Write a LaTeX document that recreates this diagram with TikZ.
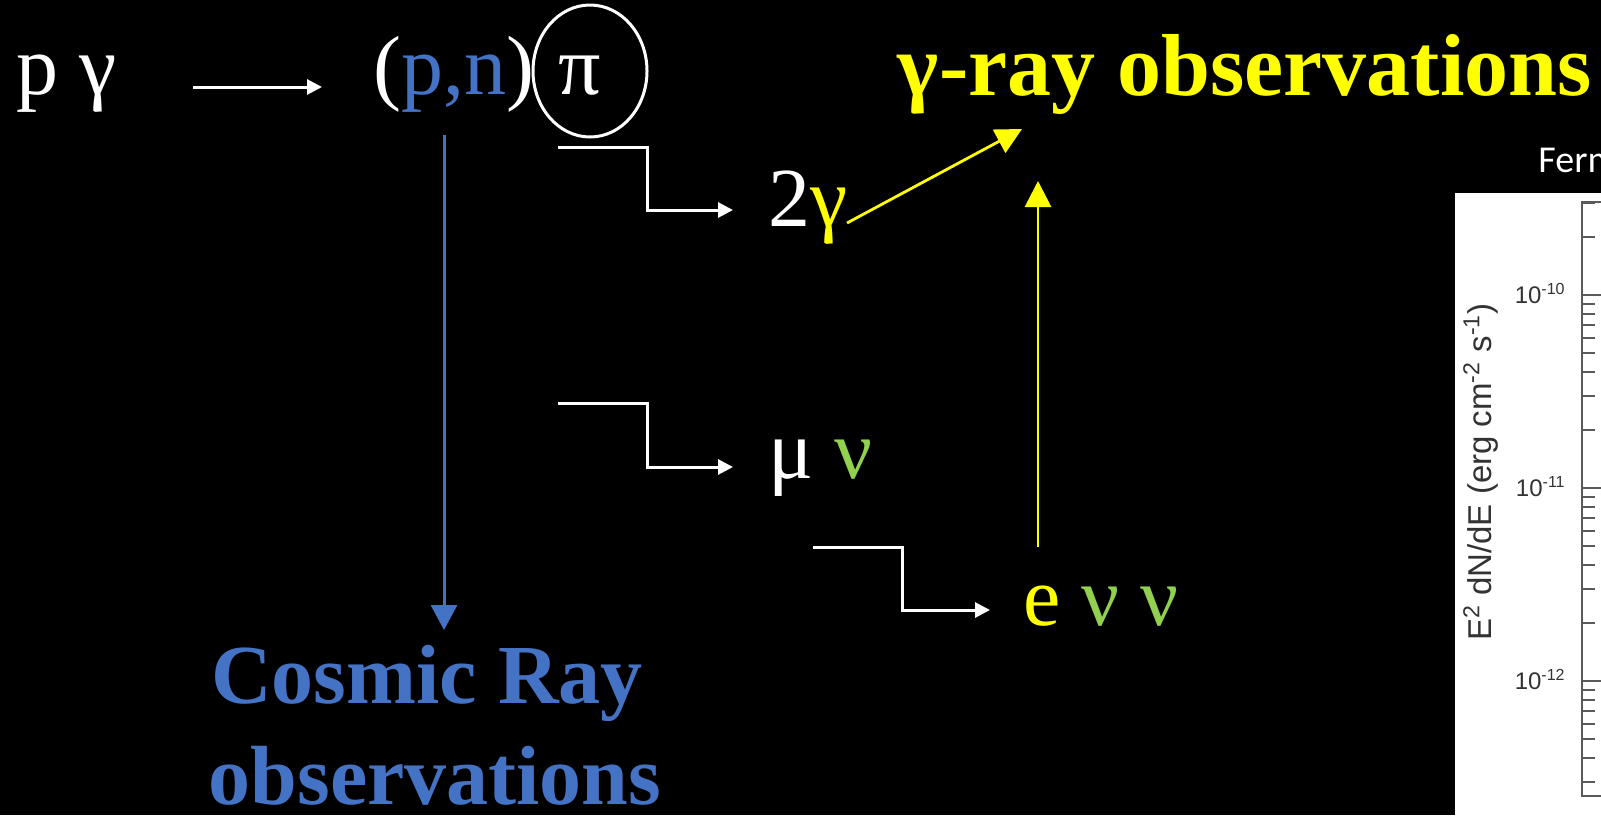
\documentclass[tikz,border=0pt]{standalone}
\usepackage{fontspec}
\setmainfont{Liberation Serif}
\newfontfamily\plotfont{Liberation Sans}
\newfontfamily\calfont{Carlito}
\usetikzlibrary{arrows.meta,shapes.geometric}
\definecolor{cblue}{HTML}{4472C4}
\definecolor{cyel}{HTML}{FFFF00}
\definecolor{cgreen}{HTML}{92D050}
\definecolor{pgray}{HTML}{5A5A5A}
\tikzset{
  txt/.style={text=white, inner sep=0pt, anchor=base west, font=\fontsize{42}{50}\selectfont},
  boldtxt/.style={inner sep=0pt, anchor=base, text=cblue, font=\fontsize{42}{50}\selectfont\bfseries},
  wel/.style={draw=white, line width=1.5pt, -{Triangle[length=7.5pt,width=7.5pt]}},
  yarrow/.style={draw=cyel, line width=1.4pt, -{Triangle[length=13pt,width=13pt]}},
  barrow/.style={draw=cblue, line width=1.5pt, -{Triangle[length=12.5pt,width=13pt]}},
  axisline/.style={draw=pgray, line width=0.9pt},
  ticklab/.style={inner sep=0pt, anchor=base east, text=black!80, font=\plotfont\fontsize{12}{14}\selectfont}
}
\begin{document}
\begin{tikzpicture}[x=0.5pt,y=-0.5pt]
\useasboundingbox (0,0) rectangle (1601,815);
\fill[black] (0,0) rectangle (1601,815);

% top row
\node[txt] (pg) at (16,94) {p γ};
\node[txt] (pn) at (373,94) {(\textcolor{cblue}{p,n})};
\node[txt] (pi) at (558,94) {π};
\node[draw=white, line width=1.5pt, ellipse, minimum width=57pt, minimum height=66pt, inner sep=0pt] (circ) at (590,71) {};
\coordinate (a0s) at (193,87);
\coordinate (a0e) at (322,87);
\draw[wel] (a0s) -- (a0e);

% title
\node[inner sep=0pt, anchor=base east, text=cyel, font=\fontsize{44}{50}\selectfont\bfseries] (gro) at (1592,95) {γ-ray observations};

% decay products
\node[txt] (tg) at (768,226) {2\textcolor{cyel}{γ}};
\node[txt] (mn) at (768,478) {μ \textcolor{cgreen}{ν}};
\node[txt] (enn) at (1023,625) {\textcolor{cyel}{e} \textcolor{cgreen}{ν ν}};

% elbow connectors
\coordinate (e1s) at (558,147); \coordinate (e1e) at (733,210);
\draw[wel] (e1s) -- (647,147) |- (e1e);
\coordinate (e2s) at (558,403); \coordinate (e2e) at (733,467);
\draw[wel] (e2s) -- (647,403) |- (e2e);
\coordinate (e3s) at (813,547); \coordinate (e3e) at (990,610);
\draw[wel] (e3s) -- (902,547) |- (e3e);

% yellow arrows
\coordinate (y1s) at (847,223); \coordinate (y1e) at (1022,129);
\draw[yarrow] (y1s) -- (y1e);
\coordinate (y2s) at (1038,547); \coordinate (y2e) at (1038,181);
\draw[yarrow] (y2s) -- (y2e);

% cosmic rays
\node[boldtxt] (cr1) at (427,703) {Cosmic Ray};
\node[boldtxt] (cr2) at (435,804) {observations};
\coordinate (bs) at (444,135); \coordinate (bt) at (444,630);
\draw[barrow] (bs) -- (bt);

% plot fragment
\node[inner sep=0pt, anchor=base west, text=white, font=\calfont\fontsize{19}{22}\selectfont] (fermi) at (1538,172) {Ferm};
\fill[white] (1455,193) rectangle (1601,815);
\begin{scope}
  \clip (1455,193) rectangle (1601,815);
  \draw[axisline] (1640,202) -- (1582,202) -- (1582,796) -- (1640,796);
  \foreach \yy in {295,488,681} \draw[axisline] (1582,\yy) -- ++(22,0);
  \begin{scope}
    \clip (1582,203) rectangle (1601,795);
    \foreach \d in {295,488,681,874}{
      \foreach \k in {2,...,9}{
        \draw[axisline] (1582,{\d-193*log10(\k)}) -- ++(13,0);
      }
    }
  \end{scope}
  \node[ticklab] (t10) at (1566,303) {10\textsuperscript{-10}};
  \node[ticklab] (t11) at (1566,496) {10\textsuperscript{-11}};
  \node[ticklab] (t12) at (1566,689) {10\textsuperscript{-12}};
  \node[rotate=90, inner sep=0pt, text=black!80, font=\plotfont\fontsize{16.5}{18}\selectfont] (ylab) at (1481,472) {E\textsuperscript{2} dN/dE (erg cm\textsuperscript{-2} s\textsuperscript{-1})};
\end{scope}
\end{tikzpicture}
\end{document}
